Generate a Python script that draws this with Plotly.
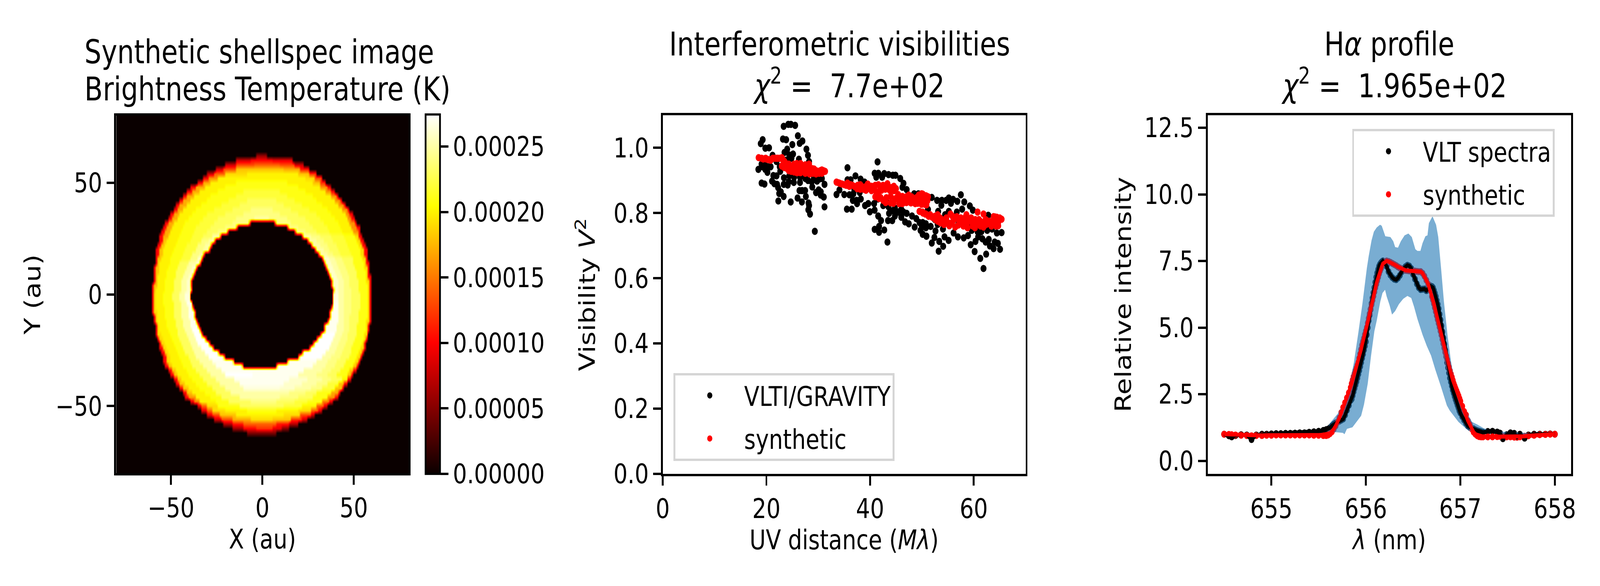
import numpy as np
import plotly.graph_objects as go

W, H = 5000, 1500
FONT = "DejaVu Sans"
TICK = 69.4
TITLE = 83.3
LW = 5.55

# ---------- image panel: per row, x break / level (1e-5 K) runs ----------
image_runs = {
 62: [-3,6,3],
 60: [-14,8,-6,10,6,9,17],
 58: [-20,8,-14,13,-4,14,10,13,18,8,23],
 56: [-25,8,-21,13,-14,18,12,17,21,11,26],
 54: [-30,8,-26,14,-20,19,-8,20,8,20,20,18,26,12,30],
 52: [-32,10,-29,16,-24,20,24,19,29,13,33],
 50: [-35,10,-32,17,-28,20,-14,21,14,20,28,18,32,12,35],
 48: [-39,10,-36,17,-31,20,-20,21,20,20,32,16,36,10,38],
 46: [-41,10,-38,17,-34,20,-24,21,-10,22,10,21,24,20,35,16,38,10,40],
 44: [-43,10,-41,17,-37,20,-28,21,-14,22,14,21,28,20,38,16,41,10,42],
 42: [-45,10,-43,17,-39,20,-30,21,-18,22,-8,23,8,22,18,21,30,20,40,16,43,10,44],
 40: [-47,10,-45,17,-41,20,-33,21,-22,22,-12,23,12,22,22,21,33,20,42,16,45,10,46],
 38: [-48,10,-46,17,-43,20,-36,21,-26,22,-16,23,-6,24,6,23,16,22,26,21,36,20,44,16,47,10,48],
 36: [-50,10,-48,17,-45,20,-38,21,-30,22,-20,23,-10,24,10,23,20,22,30,21,38,20,46,16,48,10,50],
 34: [-51,10,-49,17,-46,20,-40,21,-32,22,-24,23,-14,24,-4,25,4,24,14,23,24,22,32,21,40,20,47,16,49,10,51],
 32: [-53,10,-51,17,-48,20,-42,21,-34,22,-26,23,-16,24,-7,14,-6,0,7,14,8,24,16,23,26,22,34,21,42,20,48,16,51,10,52],
 30: [-54,10,-52,17,-49,20,-43,21,-36,22,-28,23,-20,24,-14,14,-13,0,14,14,15,24,20,23,28,22,36,21,43,20,49,16,52,10,54],
 28: [-55,10,-53,17,-50,20,-44,21,-37,22,-30,23,-24,24,-19,14,-18,0,18,14,19,24,24,23,30,22,37,21,44,20,50,16,53,10,54],
 26: [-56,10,-54,17,-51,20,-45,21,-38,22,-32,23,-27,25,-23,14,-22,0,22,14,23,25,27,24,32,23,38,22,45,21,51,19,53,10,55],
 24: [-56,10,-54,18,-52,20,-46,21,-39,22,-33,24,-29,25,-26,14,-25,0,25,14,26,25,30,24,34,23,39,22,46,21,52,19,54,10,56],
 22: [-57,10,-55,18,-53,20,-47,21,-41,22,-35,24,-31,25,-28,14,-27,0,27,14,28,25,32,24,36,23,41,22,47,21,53,19,55,10,57],
 20: [-58,10,-56,18,-54,20,-48,21,-42,22,-36,24,-32,25,-29,14,-28,0,29,14,30,25,34,24,37,23,42,22,48,21,54,19,56,10,58],
 18: [-58,10,-56,18,-54,20,-49,21,-43,22,-38,24,-34,25,-32,14,-31,0,31,14,32,25,36,24,39,23,43,22,49,21,54,19,56,10,58],
 16: [-58,10,-57,18,-55,20,-50,21,-44,22,-39,24,-35,26,-33,14,-32,0,33,14,34,26,37,25,40,24,44,23,50,21,55,19,57,10,58],
 14: [-58,10,-57,18,-56,20,-50,21,-45,23,-40,25,-36,26,-34,14,-33,0,34,14,35,26,38,25,41,24,45,23,50,21,56,19,57,10,59],
 12: [-59,10,-58,18,-56,20,-51,21,-46,23,-41,25,-38,26,-36,14,-35,0,35,14,36,26,39,25,42,24,46,23,51,21,56,19,58,10,59],
 10: [-59,10,-58,18,-56,20,-52,21,-47,23,-42,25,-39,26,-37,14,-36,0,36,14,37,26,40,25,43,24,47,23,52,21,57,19,58,10,59],
 8: [-59,10,-58,18,-57,20,-52,21,-47,23,-43,25,-40,26,-38,14,-37,0,37,14,38,26,41,25,44,24,48,23,52,21,57,19,58,10,60],
 6: [-59,10,-58,18,-57,20,-53,21,-48,23,-44,25,-41,26,-39,14,-38,0,38,14,39,26,42,25,45,24,48,23,53,21,57,19,59,10,60],
 4: [-60,10,-59,18,-57,20,-53,21,-48,23,-44,25,-41,26,-39,14,-38,0,38,14,39,26,42,25,45,24,48,23,53,21,58,19,59,10,60],
 2: [-60,10,-59,18,-58,20,-53,21,-48,23,-44,25,-41,26,-39,18,-38,0,39,18,40,26,42,25,45,24,49,23,53,21,58,19,59,10,60],
 0: [-60,10,-59,19,-58,20,-54,21,-49,23,-45,25,-42,26.5,-39,0,39,26.5,42,25,45,24,49,23,54,21,58,19,59,10,60],
 -2: [-60,10,-59,19,-58,20,-54,21,-49,23,-45,25,-42,26.5,-39,0,39,26.5,42,25,45,24,49,23,54,21,58,19,59,10,60],
 -4: [-60,10,-59,19,-58,20,-54,21,-48,23,-44,25,-41,27,-38,0,39,27,42,25,45,24,49,23,54,21,58,19,59,10,60],
 -6: [-60,10,-59,19,-58,20,-53,21,-48,23,-44,25,-40,27,-38,14,-37,0,38,14,39,27,42,25,45,24,49,23,54,21,58,19,59,10,60],
 -8: [-60,10,-59,19,-57,20,-53,21,-48,23,-44,25,-40,27,-37,14,-36,0,37,14,38,27,42,25,45,24,49,23,53,21,58,19,59,10,60],
 -10: [-59,10,-58,19,-57,20,-53,21,-48,23,-44,25,-40,27,-37,14,-36,0,37,14,38,27,42,25,45,24,48,23,53,21,58,19,59,10,60],
 -12: [-59,10,-58,19,-57,20,-52,21,-47,23,-43,25,-39,27,-36,14,-35,0,36,14,37,27,42,25,45,24,48,23,53,21,57,19,59,10,60],
 -14: [-58,10,-57,19,-56,20,-52,21,-47,23,-43,25,-39,27,-35,14,-34,0,34,14,35,27,41,25,45,24,48,23,52,21,57,19,58,10,59],
 -16: [-58,10,-57,19,-56,20,-51,21,-46,23,-42,25,-38,27.5,-34,14,-33,0,34,14,35,27,41,25,45,24,48,23,52,21,57,19,58,10,59],
 -18: [-58,10,-57,19,-55,20,-50,21,-46,23,-41,25,-37,27.5,-33,14,-32,0,32,14,33,27.5,40,25,44,24,47,23,52,21,56,19,58],
 -20: [-57,10,-56,19,-54,20,-49,21,-45,23,-40,25,-36,27.5,-31,14,-30,0,30,14,31,27.5,39,25,43,24,47,23,51,21,56,19,57,10,58],
 -22: [-56,10,-55,19,-53,20,-48,21,-44,23,-39,25,-35,27.5,-29,14,-28,0,28,14,29,27.5,38,25,42,24,46,23,50,21,55,19,56,10,57],
 -24: [-56,10,-54,19,-52,20,-47,21,-43,23,-38,25,-33,27.5,-27,14,-26,0,26,14,27,27.5,37,25,41,24,45,23,49,21,54,19,56,10,57],
 -26: [-55,10,-53,19,-51,20,-46,21,-42,23,-37,25,-31,27.5,-24,16,-23,0,22,16,23,27.5,35,25,40,24,44,23,49,21,53,19,55,10,56],
 -28: [-54,10,-52,19,-50,20,-45,21,-40,23,-36,25,-29,27.5,-21,18,-20,0,20,18,21,27.5,33,25,38,24,43,23,48,21,52,19,54,10,55],
 -30: [-54,10,-52,19,-50,20,-44,21,-39,23,-34,25,-27,27,-16,20,-15,0,14,20,15,27,30,25,36,24,41,23,46,21,51,19,53,10,54],
 -32: [-53,10,-51,18,-49,20,-43,21,-38,23,-32,25,-25,27,-11,20,-10,0,8,20,9,27,28,25,35,24,40,23,45,21,50,18,52,10,53],
 -34: [-51,10,-49,18,-47,20,-41,21,-36,23,-30,25,-22,27,23,25,33,24,38,23,43,21,48,18,50,10,52],
 -36: [-50,10,-48,18,-46,20,-40,21,-34,23,-28,25,-20,27.5,-5,27,20,25,30,24,36,23,41,21,47,18,49,10,50],
 -38: [-48,10,-46,18,-44,20,-38,21,-32,23,-25,25,-15,27,15,26,25,25,33,24,38,23,44,20,47,10,49],
 -40: [-47,10,-45,18,-42,20,-36,21,-30,23,-23,25,-12,27,12,26,22,25,30,24,36,22,42,18,45,10,47],
 -42: [-45,10,-43,18,-40,20,-34,21,-27,23,-20,25,-10,26.5,10,26,18,25,27,24,33,22,40,18,44,10,45],
 -44: [-43,10,-41,18,-38,20,-31,21,-25,23,-17,25,15,24,24,23,30,21,38,17,42,10,43],
 -46: [-42,10,-40,16,-36,20,-28,21,-22,23,-12,25,10,24,20,23,28,21,36,16,40,10,42],
 -48: [-39,9,-37,15,-34,20,-25,21,-18,23,-6,24,8,23,18,22,25,21,33,15,37,9,39],
 -50: [-35,9,-33,14,-30,19,-24,21,-12,23,12,22,22,20,30,14,34,9,36],
 -52: [-33,9,-30,14,-27,19,-20,20,-8,21,8,20,20,19,27,14,31,9,33],
 -54: [-30,9,-27,13,-23,18,-14,20,12,19,21,13,27,8,29],
 -56: [-26,8,-22,13,-16,17,-6,19,6,18,16,12,22,8,25],
 -58: [-21,7,-16,11,-10,14,8,11,15,7,20],
 -60: [-16,6,-10,10,-3,12,6,9,11,5,15],
 -62: [-8,5,8],
}
colourbar_ticks = [0, 5e-5, 10e-5, 15e-5, 20e-5, 25e-5]

# ---------- visibilities ----------
vis_uv_obs = [23.33,24.22,24.73,25.55,26.07,23.19,23.81,25.0,26.95,26.42,19.28,18.91,19.79,20.51,27.72,28.02,24.01,23.5,25.14,24.42,24.83,21.19,26.27,28.23,21.95,23.39,23.81,19.07,19.69,20.31,20.82,18.45,19.28,20.2,19.79,22.57,22.67,21.34,21.95,23.39,24.42,25.35,21.09,22.06,21.54,23.35,24.11,24.32,25.29,26.48,28.02,28.74,29.77,30.7,31.21,19.07,19.63,22.26,28.85,26.38,26.89,27.47,22.78,22.47,30.08,29.57,30.49,30.49,31.07,27.61,23.33,26.01,26.85,28.13,22.3,24.69,28.23,28.09,31.21,28.42,29.34,26.48,27.51,29.16,30.18,27.1,
 41.44,35.64,40.88,41.6,41.19,42.74,42.33,43.56,44.38,44.9,45.82,46.44,37.18,36.25,38.17,35.64,38.93,46.24,47.06,48.5,49.32,34.09,33.52,35.02,36.01,36.67,37.39,37.49,38.21,39.03,39.65,40.78,39.96,40.88,35.53,36.46,41.56,42.12,43.46,44.28,43.66,44.79,44.38,45.41,46.44,47.06,46.03,46.75,48.09,48.91,47.47,48.6,49.53,49.94,49.73,50.15,50.87,50.76,41.73,40.88,42.74,41.73,43.35,46.03,42.53,43.56,44.79,38.0,36.77,36.97,41.5,43.15,
 51.9,52.92,53.75,53.85,54.67,55.19,55.6,56.01,56.83,57.51,58.17,57.76,59.24,59.82,62.8,53.13,55.19,54.47,56.73,50.76,50.15,51.17,50.87,51.69,52.62,52.41,51.9,53.34,54.1,53.23,53.03,50.15,54.36,55.15,54.06,56.11,56.94,58.07,58.89,59.61,60.74,61.46,62.6,63.52,64.45,65.37,59.41,60.33,61.67,62.9,63.11,63.83,64.65,65.07,64.04,62.29,60.85,60.17,61.26,62.39,61.88,55,57,59,61,63,52.5,54]
vis_v2_obs = [1.066,1.072,1.072,1.069,1.037,1.027,1.025,1.010,1.021,1.014,1.025,1.013,.999,1.0,.996,.977,.996,.986,.981,.978,.968,.977,.965,.958,.958,.962,.962,.950,.948,.942,.942,.934,.942,.925,.934,.942,.928,.915,.914,.908,.914,.910,.898,.888,.890,.888,.886,.896,.894,.894,.900,.896,.898,.906,.888,.892,.889,.878,.880,.869,.869,.869,.865,.860,.871,.863,.865,.855,.849,.851,.851,.846,.834,.831,.837,.834,.823,.810,.819,.797,.744,.910,.906,.906,.904,.922,
 .957,.939,.922,.922,.910,.921,.910,.918,.916,.916,.906,.891,.914,.902,.904,.902,.895,.879,.872,.859,.859,.871,.857,.857,.856,.839,.839,.829,.843,.823,.829,.829,.804,.809,.812,.812,.791,.777,.777,.777,.799,.791,.807,.803,.803,.799,.787,.773,.791,.783,.767,.757,.771,.763,.747,.735,.729,.755,.759,.750,.748,.741,.711,.811,.823,.819,.815,.863,.859,.871,.843,.835,
 .848,.839,.824,.839,.839,.846,.830,.842,.836,.856,.834,.812,.822,.809,.793,.805,.805,.795,.803,.767,.771,.811,.729,.759,.745,.725,.708,.713,.698,.683,.765,.735,.727,.716,.751,.739,.727,.724,.731,.747,.743,.743,.747,.751,.739,.740,.703,.713,.721,.719,.699,.691,.707,.689,.711,.711,.727,.682,.661,.674,.630,.77,.765,.76,.76,.765,.78,.78]
vis_uv_syn = [18.5,19.07,19.85,20.31,20.82,21.23,21.95,22.57,22.98,23.19,23.5,22.98,23.81,24.32,24.32,25.35,25.35,25.86,25.86,26.58,26.58,27.51,27.51,28.23,28.33,28.85,28.95,29.57,29.57,30.18,30.7,30.7,31.32,23.6,24.42,25.25,26.27,27.1,27.92,
 24.9,25.6,26.9,27.0,27.9,28.4,29.2,29.9,30.4,31.0,19.4,20.0,20.6,21.6,22.2,23.3,23.4,24.0,24.8,26.2,
 33.52,34.2,35.02,35.64,36.25,37.08,38.11,38.11,38.72,39.55,40.27,40.27,41.6,41.6,43.35,42.94,44.59,44.59,41.71,42.53,43.97,43.97,45.41,45.62,46.23,46.23,47.47,47.88,48.71,48.91,49.94,49.94,50.76,50.87,43.15,44.79,46.85,49.73,49.53,50.66,
 33.9,34.6,35.4,36.0,36.6,37.5,37.6,38.4,39.0,39.2,39.9,40.8,41.0,41.2,42.0,42.5,42.2,43.0,44.0,43.8,44.9,45.0,
 41.0,42.0,42.8,43.0,44.5,45.0,45.8,47.0,47.0,48.0,48.3,49.2,49.4,50.3,50.4,50.2,46.0,47.5,
 50.15,50.87,51.17,50.56,51.07,50.15,50.76,52.0,53.03,53.03,54.06,54.26,55.5,55.29,56.42,56.73,57.55,58.58,58.79,59.82,60.85,61.88,60.74,61.88,62.7,63.93,64.72,63.83,64.45,65.37,56.11,57.14,58.17,59.2,60.23,61.26,63.11,
 50.2,51.3,51.6,52.5,52.6,53.5,53.6,54.5,54.7,55.0,55.8,55.9,56.3,57.0,57.5,58.0,58.3,58.9,59.5,59.8,60.3,60.5,61.0,61.3,61.8,62.3,62.4,63.0,63.4,64.0,64.3,64.7,65.0,64.1]
vis_v2_syn = [.970,.968,.968,.964,.962,.968,.968,.968,.970,.964,.958,.944,.938,.950,.930,.950,.926,.924,.952,.952,.924,.922,.948,.950,.920,.936,.922,.930,.920,.922,.932,.922,.928,.946,.942,.938,.936,.934,.934,
 .94,.938,.944,.928,.945,.93,.935,.928,.93,.93,.966,.966,.964,.968,.968,.952,.94,.95,.928,.925,
 .895,.891,.887,.892,.887,.881,.887,.873,.873,.889,.882,.869,.887,.865,.890,.873,.882,.869,.845,.839,.831,.851,.857,.829,.829,.851,.855,.831,.829,.847,.859,.827,.853,.825,.847,.843,.843,.843,.805,.797,
 .893,.889,.885,.882,.885,.875,.885,.881,.88,.87,.876,.875,.885,.865,.88,.885,.87,.88,.878,.87,.875,.875,
 .85,.848,.838,.832,.83,.845,.85,.85,.832,.85,.84,.83,.855,.845,.83,.855,.84,.84,
 .858,.852,.850,.827,.838,.803,.797,.787,.795,.775,.779,.765,.797,.761,.757,.789,.771,.795,.755,.775,.767,.757,.803,.797,.775,.767,.761,.789,.787,.781,.779,.779,.771,.775,.755,.775,.767,
 .8,.79,.795,.79,.78,.785,.77,.775,.785,.77,.77,.79,.785,.763,.785,.76,.785,.775,.785,.76,.78,.765,.78,.76,.77,.78,.765,.775,.76,.775,.76,.77,.785,.788]

# ---------- H-alpha profile ----------
wavelength = [654.50,654.55,654.58,654.62,654.68,654.74,654.79,654.84,654.90,654.95,655.00,655.05,655.10,655.15,655.20,655.25,655.30,655.35,655.40,655.45,655.50,655.55,655.58,
 655.60,655.62,655.64,655.66,655.68,655.70,655.72,655.74,655.76,655.78,655.80,655.82,655.84,
 655.85,655.86,655.87,655.88,655.89,655.90,655.91,655.92,655.93,655.94,655.95,655.96,655.97,655.98,655.99,656.00,656.01,656.02,656.03,656.04,656.05,656.06,656.07,656.08,656.09,656.10,656.11,656.12,656.13,656.14,656.15,656.16,656.17,656.18,
 656.20,656.22,656.24,656.26,656.28,656.30,656.32,656.34,656.36,656.38,656.40,656.42,656.44,656.46,656.48,656.50,656.52,656.54,656.56,656.58,656.60,656.62,656.64,656.66,656.68,656.70,
 656.71,656.72,656.73,656.74,656.75,656.76,656.77,656.78,656.79,656.80,656.81,656.82,656.83,656.84,656.85,656.86,656.87,656.88,656.89,656.90,656.91,656.92,656.93,656.94,656.95,656.96,656.97,656.98,656.99,657.00,
 657.02,657.04,657.06,657.08,657.10,657.12,657.14,657.16,657.18,657.20,657.22,657.24,
 657.29,657.34,657.39,657.42,657.45,657.49,657.53,657.57,657.60,657.63,657.68,657.72,657.78,657.84,657.90,657.95,658.00]
intensity_obs = [1.0,.94,.90,.95,.98,.97,.80,.97,1.0,1.0,1.01,1.02,1.02,1.03,1.03,1.04,1.05,1.05,1.07,1.09,1.11,1.14,1.17,
 1.19,1.24,1.31,1.37,1.42,1.45,1.49,1.53,1.57,1.72,1.90,2.08,2.27,
 2.32,2.45,2.59,2.72,2.85,2.97,3.11,3.25,3.39,3.54,3.69,3.85,4.0,4.16,4.31,4.47,4.73,5.0,5.26,5.47,5.68,5.9,6.11,6.31,6.5,6.7,6.89,7.05,7.18,7.3,7.38,7.43,7.47,7.5,
 7.43,7.30,7.10,6.97,6.88,6.82,6.80,6.86,6.96,7.1,7.22,7.29,7.34,7.31,7.22,7.0,6.82,6.64,6.50,6.43,6.44,6.45,6.39,6.45,6.57,6.54,
 6.5,6.4,6.29,6.17,6.02,5.87,5.71,5.5,5.29,5.07,4.84,4.61,4.38,4.15,3.92,3.69,3.5,3.3,3.11,2.96,2.81,2.66,2.54,2.42,2.3,2.2,2.09,1.99,1.88,1.8,
 1.66,1.53,1.41,1.31,1.26,1.22,1.2,1.16,1.13,1.11,1.09,1.07,
 1.1,1.11,1.08,1.04,.83,.98,1.05,1.03,.89,1.0,.85,.97,1.0,1.0,1.0,1.01,1.0]
intensity_syn = [1.0,.99,.98,.97,.96,.95,.94,.95,.95,.96,.96,.97,.97,.97,.97,.97,.97,.97,.97,.96,.96,.95,.95,
 .97,1.02,1.09,1.19,1.31,1.45,1.61,1.81,2.0,2.18,2.36,2.55,2.75,
 2.90,3.03,3.16,3.27,3.38,3.48,3.59,3.69,3.85,4.01,4.18,4.34,4.47,4.60,4.74,4.87,5.0,5.17,5.35,5.52,5.70,5.86,6.02,6.18,6.34,6.50,6.63,6.76,6.89,7.02,7.13,7.22,7.31,7.40,
 7.47,7.5,7.48,7.45,7.41,7.37,7.33,7.28,7.24,7.2,7.17,7.15,7.14,7.13,7.13,7.12,7.12,7.11,7.1,7.1,7.04,6.93,6.78,6.63,6.41,6.17,
 6.04,5.9,5.75,5.6,5.45,5.3,5.16,5.02,4.87,4.72,4.56,4.4,4.24,4.08,3.94,3.8,3.66,3.52,3.38,3.26,3.14,3.02,2.9,2.8,2.71,2.62,2.53,2.44,2.34,2.24,
 2.05,1.85,1.72,1.5,1.36,1.2,1.08,1.0,.94,.91,.90,.90,
 .9,.9,.91,.92,.92,.90,.90,.89,.89,.90,.92,.94,.96,.98,.99,1.0,1.0]
band_upper_x = [654.50,654.85,655.0,655.3,655.5,655.58,655.63,655.707,655.767,655.83,655.873,655.92,655.964,656.01,656.03,656.06,656.085,656.115,656.15,656.168,656.206,656.26,656.29,656.31,656.34,656.37,656.41,656.45,656.486,656.524,656.546,656.577,656.6,656.63,656.652,656.667,656.705,656.743,656.766,656.796,656.826,656.864,656.90,656.947,656.99,657.124,657.18,657.248,657.34,658.0]
band_upper_y = [1.0,1.0,1.01,1.05,1.11,1.18,1.46,1.79,2.18,2.9,3.69,4.8,5.91,7.22,7.68,8.27,8.6,8.76,8.86,8.82,8.43,8.4,8.24,8.02,8.0,8.24,8.46,8.53,8.4,7.94,7.88,7.88,8.17,8.43,8.46,8.92,9.18,8.86,8.4,7.22,5.98,4.73,3.75,2.77,2.31,1.46,1.36,1.22,1.11,1.0]
band_lower_x = [654.50,654.58,654.62,654.74,654.79,654.84,655.0,655.3,655.5,655.6,655.69,655.757,655.774,655.8,655.858,655.95,655.98,656.02,656.055,656.09,656.115,656.153,656.176,656.203,656.22,656.25,656.277,656.31,656.35,656.395,656.44,656.48,656.51,656.546,656.6,656.645,656.69,656.735,656.796,656.857,656.887,656.98,657.085,657.25,657.42,657.446,657.49,657.6,657.63,657.68,657.72,658.0]
band_lower_y = [1.0,.9,.97,.97,.8,.98,1.01,1.05,1.11,1.1,1.07,1.05,1.0,1.2,1.26,1.69,2.11,2.9,3.95,4.86,5.26,5.98,6.3,6.42,6.17,5.85,5.49,5.62,5.88,6.08,6.19,6.11,5.78,5.32,4.73,4.31,3.95,3.42,2.77,2.08,1.89,1.46,1.13,1.07,1.05,.83,1.0,.89,1.0,.85,1.0,1.0]

# ---------- build image matrix from the runs ----------
col_x = np.arange(-80, 81, 1.0)
row_y = np.arange(-80, 81, 2)
image_z = np.zeros((len(row_y), len(col_x)))
for i, yy in enumerate(row_y):
    runs = image_runs.get(int(yy))
    if not runs:
        continue
    for k in range(0, len(runs) - 2, 2):
        mask = (col_x >= runs[k]) & (col_x < runs[k + 2])
        image_z[i, mask] = runs[k + 1] * 1e-5

hot = [[0, "rgb(10,0,0)"], [0.365, "rgb(255,0,0)"], [0.746, "rgb(255,255,0)"], [1, "rgb(255,255,255)"]]


def dx(a, b):
    return [a / W, b / W]


def dy(top, bottom):
    return [1 - bottom / H, 1 - top / H]


fig = go.Figure()
fig.add_trace(go.Heatmap(
    x=col_x, y=row_y, z=image_z, zmin=0, zmax=27.45e-5, colorscale=hot, xaxis="x", yaxis="y", showlegend=False,
    zsmooth="best",
    colorbar=dict(x=1330 / W, xanchor="left", xpad=0, ypad=0, y=1 - 1213 / H, yanchor="bottom",
                  len=920 / H, lenmode="fraction", thickness=45, thicknessmode="pixels",
                  outlinewidth=LW, outlinecolor="black", ticks="outside", ticklen=24, tickwidth=LW,
                  tickcolor="black", tickvals=colourbar_ticks, tickformat=".5f",
                  tickfont=dict(family=FONT, size=TICK, color="black"))))

fig.add_trace(go.Scatter(x=vis_uv_obs, y=vis_v2_obs, mode="markers", name="VLTI/GRAVITY", legendgroup="a",
                         marker=dict(color="black", size=18.7), xaxis="x2", yaxis="y2", legend="legend"))
fig.add_trace(go.Scatter(x=vis_uv_syn, y=vis_v2_syn, mode="markers", name="synthetic", legendgroup="b",
                         marker=dict(color="red", size=18.7), xaxis="x2", yaxis="y2", legend="legend"))

fig.add_trace(go.Scatter(x=wavelength, y=intensity_obs, mode="markers", name="VLT spectra", legendgroup="c",
                         marker=dict(color="black", size=18), xaxis="x3", yaxis="y3", legend="legend2"))
fig.add_trace(go.Scatter(x=wavelength, y=intensity_syn, mode="markers", name="synthetic", legendgroup="d",
                         marker=dict(color="red", size=18), xaxis="x3", yaxis="y3", legend="legend2"))
fig.add_trace(go.Scatter(x=band_upper_x + band_lower_x[::-1], y=band_upper_y + band_lower_y[::-1], mode="lines",
                         line=dict(width=0), fill="toself", fillcolor="rgba(31,119,180,0.6)", showlegend=False,
                         hoverinfo="skip", xaxis="x3", yaxis="y3"))
fig.add_trace(go.Scatter(x=wavelength, y=intensity_obs, mode="lines", line=dict(color="black", width=10.4),
                         showlegend=False, xaxis="x3", yaxis="y3"))
fig.add_trace(go.Scatter(x=wavelength, y=intensity_syn, mode="lines", line=dict(color="red", width=10.4),
                         showlegend=False, xaxis="x3", yaxis="y3"))


def axis(domain, rng, tickvals, title, standoff, anchor, tickformat=None):
    d = dict(domain=domain, range=rng, tickmode="array", tickvals=tickvals, showgrid=False, zeroline=False,
             showline=True, mirror=True, linecolor="black", linewidth=LW, ticks="outside", ticklen=24,
             tickwidth=LW, tickcolor="black", anchor=anchor, automargin=False,
             tickfont=dict(family=FONT, size=TICK, color="black"),
             title=dict(text=title, standoff=standoff, font=dict(family=FONT, size=TICK, color="black")))
    if tickformat:
        d["tickformat"] = tickformat
    return d


legend_common = dict(font=dict(family=FONT, size=TICK, color="black"), bgcolor="rgba(255,255,255,0.8)",
                     bordercolor="#d5d5d5", borderwidth=LW, itemwidth=205, itemsizing="trace",
                     tracegroupgap=17, traceorder="grouped", xanchor="left", yanchor="top",
                     entrywidthmode="pixels")

fig.update_layout(
    width=W, height=H, autosize=False, margin=dict(l=0, r=0, t=0, b=0, pad=0),
    paper_bgcolor="white", plot_bgcolor="white", font=dict(family=FONT, size=TICK, color="black"),
    xaxis=axis(dx(363, 1277), [-80, 80], [-50, 0, 50], "X (au)", 13, "y"),
    yaxis=axis(dy(296, 1211), [-80, 80], [-50, 0, 50], "Y (au)", 26, "x"),
    xaxis2=axis(dx(2071, 3205), [0, 70], [0, 20, 40, 60], "UV distance (<i>Mλ</i>)", 13, "y2"),
    yaxis2=axis(dy(295, 1213), [0, 1.1], [0, .2, .4, .6, .8, 1.0], "Visibility <i>V</i><sup>2</sup>", 36, "x2", ".1f"),
    xaxis3=axis(dx(3774, 4910), [654.326, 658.173], [655, 656, 657, 658], "<i>λ</i> (nm)", 13, "y3"),
    yaxis3=axis(dy(295, 1213), [-0.49, 12.97], [0, 2.5, 5, 7.5, 10, 12.5], "Relative intensity", 20, "x3", ".1f"),
    legend=dict(x=2105 / W, y=1 - 955 / H, entrywidth=480, **legend_common),
    legend2=dict(x=4226 / W, y=1 - 330 / H, entrywidth=421, **legend_common),
    showlegend=True,
)

title_lines = [
    ("Synthetic shellspec image", 262, 133, "left"),
    ("Brightness Temperature (K)", 262, 228, "left"),
    ("Interferometric visibilities", 2624, 113, "center"),
    ("<i>χ</i><sup>2</sup> =  7.7e+02", 2652, 215, "center"),
    ("H<i>α</i> profile", 4341, 113, "center"),
    ("<i>χ</i><sup>2</sup> =  1.965e+02", 4356, 215, "center"),
]
for text, px, py, anchor in title_lines:
    fig.add_annotation(text=text, xref="paper", yref="paper", x=px / W, y=1 - py / H, xanchor=anchor,
                       yanchor="middle", showarrow=False, font=dict(family=FONT, size=TITLE, color="black"))

# the browser window can be narrower than the requested 5000 px: fit the whole figure into it
fit_page = """
var el = document.querySelector('.plotly-graph-div');
document.documentElement.style.overflow = 'hidden';
document.body.style.margin = '0';
document.body.style.overflow = 'hidden';
el.style.transformOrigin = '0 0';
el.style.transform = 'scale(' + (window.innerWidth / 5000) + ',' + (window.innerHeight / 1500) + ')';
"""
fig.write_html("out.html", config=dict(displayModeBar=False), post_script=fit_page)
